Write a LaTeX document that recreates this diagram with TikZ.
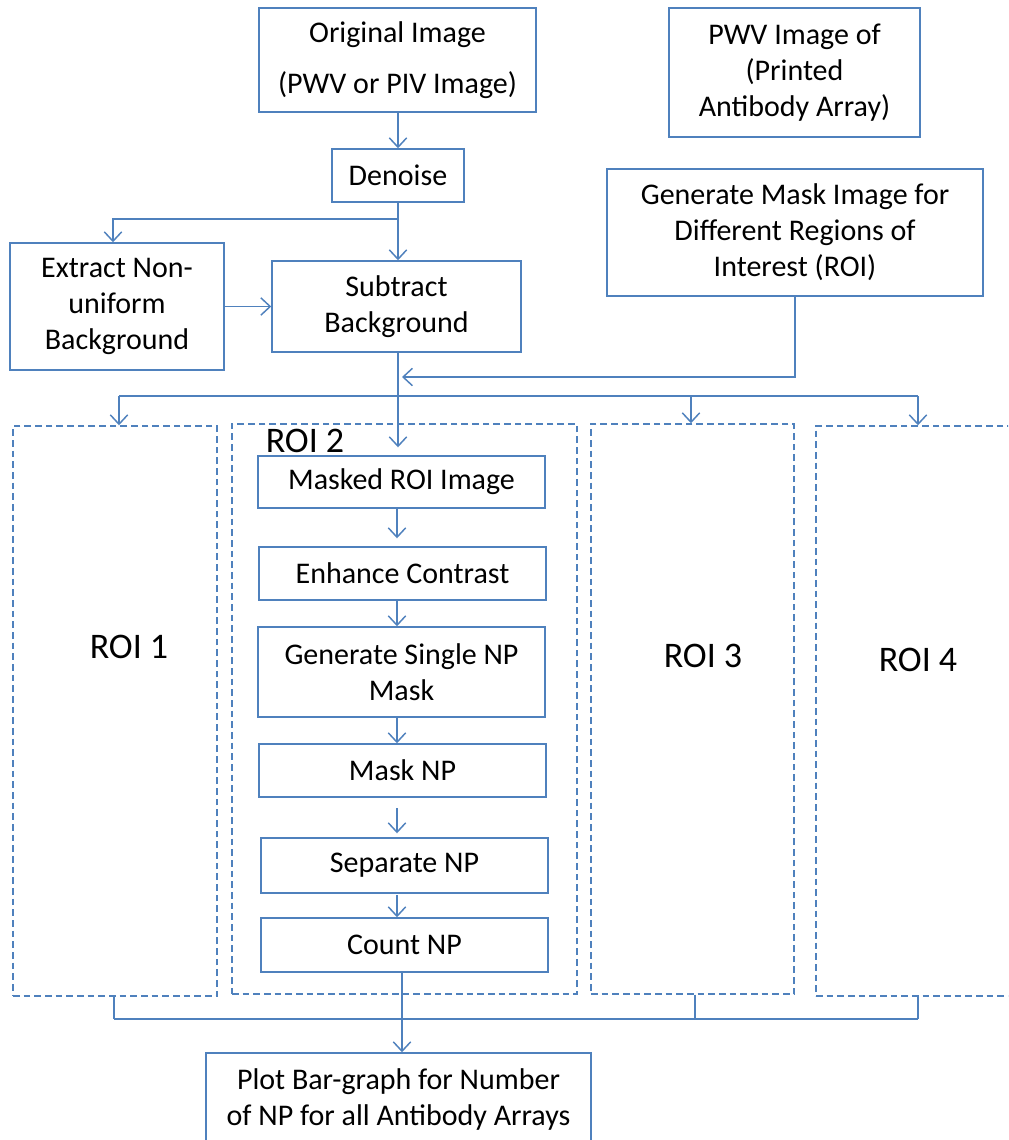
\documentclass[tikz,border=0pt]{standalone}
\usepackage{fontspec}
\setmainfont{Carlito}
\usetikzlibrary{arrows.meta}
\definecolor{lineblue}{RGB}{79,129,189}
\tikzset{
  rect/.style n args={4}{at={({(#1+#3)/2},{(#2+#4)/2})},
    minimum width={(#3-#1)*0.75pt}, minimum height={(#4-#2)*0.75pt}},
  box/.style={draw=lineblue, line width=1.1pt, inner sep=0pt, align=center, text=black,
    font=\fontsize{22.5}{27}\selectfont},
  roibox/.style={draw=lineblue, line width=1.1pt, inner sep=0pt, dash pattern=on 5pt off 3pt},
  roilabel/.style={font=\fontsize{27}{30}\selectfont, text=black, inner sep=0pt},
  conn/.style={draw=lineblue, line width=1.1pt},
  arr/.style={conn, -{Straight Barb[length=7pt,width=13pt,line width=1.1pt]}}
}
\begin{document}
\begin{tikzpicture}[x=0.75pt,y=-0.75pt]
\useasboundingbox (0,0) rectangle (1008,1140);
\clip (0,0) rectangle (1008,1140);
\fill[white] (0,0) rectangle (1008,1140);

% top boxes
\node[box, rect={259}{8}{536}{112}, font=\fontsize{22.5}{38}\selectfont] (orig) {Original Image\\(PWV or PIV Image)};
\node[box, rect={669}{8}{920}{137}] (pwv) {PWV Image of\\(Printed\\Antibody Array)};
\node[box, rect={332}{149}{464}{202}] (denoise) {Denoise};
\node[box, rect={607}{169}{983}{296}] (genmask) {Generate Mask Image for\\Different Regions of\\Interest (ROI)};
\node[box, rect={10}{243}{224}{370}] (extract) {Extract Non-\\uniform\\Background};
\node[box, rect={272}{261}{521}{352}] (subtract) {Subtract\\Background};

% ROI regions
\node[roibox, rect={13}{426}{217}{996}] (roi1) {};
\node[roibox, rect={232}{424}{577}{994}] (roi2) {};
\node[roibox, rect={591}{424}{794}{994}] (roi3) {};
\node[roibox, rect={816}{426}{1014}{996}] (roi4) {};
\node[roilabel] (l1) at (129,647) {ROI 1};
\node[roilabel] (l2) at (305,441) {ROI 2};
\node[roilabel] (l3) at (703,656) {ROI 3};
\node[roilabel] (l4) at (918,660) {ROI 4};

% ROI 2 pipeline
\node[box, rect={258}{456}{545}{508}] (masked) {Masked ROI Image};
\node[box, rect={259}{547}{546}{600}] (enhance) {Enhance Contrast};
\node[box, rect={258}{627}{545}{717}] (single) {Generate Single NP\\Mask};
\node[box, rect={259}{744}{546}{797}] (masknp) {Mask NP};
\node[box, rect={261}{838}{548}{893}] (separate) {Separate NP};
\node[box, rect={261}{918}{548}{972}] (count) {Count NP};

% bottom box
\node[box, rect={206}{1053}{591}{1146}] (plot) {Plot Bar-graph for Number\\of NP for all Antibody Arrays};

% helper coordinates
\coordinate (col) at (398,0);
\coordinate (col2) at (397,0);
\coordinate (col3) at (402,0);
\coordinate (br) at (398,219);
\coordinate (mj) at (402,377);
\coordinate (dl) at (119,396);
\coordinate (d3) at (691,396);
\coordinate (d4) at (918,396);
\coordinate (b1) at (114,1019);
\coordinate (b3) at (695,1019);
\coordinate (b4) at (918,1019);

% top connectors
\draw[arr] (orig.south -| col) -- (denoise.north -| col);
\draw[arr] (denoise.south -| col) -- (subtract.north -| col);
\draw[arr] (br) -| ([xshift=-3pt]extract.north);
\draw[arr] (extract.east) -- (subtract.west);
\draw[arr] (genmask.south) |- (mj);
\draw[arr] (subtract.south -| col) -- ([yshift=6pt]masked.north -| col);

% distribution line
\draw[conn] (dl) -- (d4);
\draw[arr] (dl) -- (dl |- roi1.north);
\draw[arr] (d3) -- (d3 |- roi3.north);
\draw[arr] (d4) -- (d4 |- roi4.north);

% ROI 2 internal
\draw[arr] (masked.south -| col2) -- ([yshift=6pt]enhance.north -| col2);
\draw[arr] (enhance.south -| col2) -- (single.north -| col2);
\draw[arr] (single.south -| col2) -- (masknp.north -| col2);
\draw[arr] ([yshift=-8pt]masknp.south -| col2) -- ([yshift=3pt]separate.north -| col2);
\draw[arr] ([yshift=-1pt]separate.south -| col2) -- (count.north -| col2);

% collection line
\draw[conn] (b1 |- roi1.south) -- (b1);
\draw[conn] (b3 |- roi3.south) -- (b3);
\draw[conn] (b4 |- roi4.south) -- (b4);
\draw[conn, line width=1.6pt] (b1) -- (b4);
\draw[arr] (count.south -| col3) -- (plot.north -| col3);
\end{tikzpicture}
\end{document}
